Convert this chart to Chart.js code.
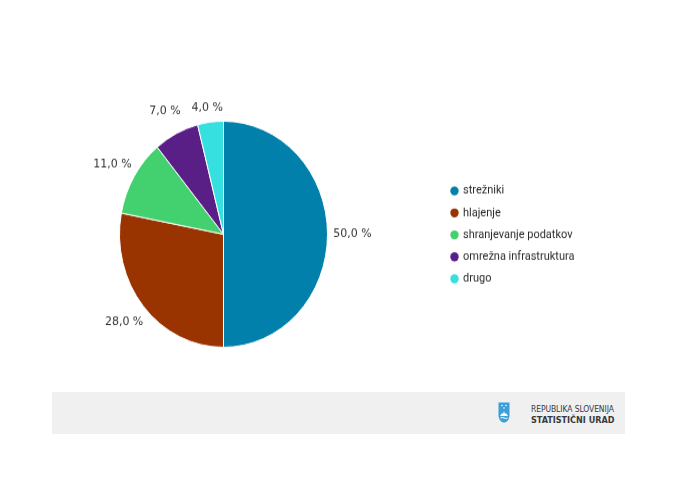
<!DOCTYPE html>
<html>
<head>
<meta charset="utf-8">
<script src="https://cdn.jsdelivr.net/npm/chart.js@4.4.1/dist/chart.umd.min.js"></script>
<style>
  html, body { margin: 0; padding: 0; background: #fff; }
  body { width: 677px; height: 486px; position: relative; overflow: hidden; }
  #wrap { position: absolute; left: 0; top: 0; width: 677px; height: 360px; transform: scaleY(1.087); transform-origin: 0 0; }
  #footer { position: absolute; left: 52px; top: 392px; width: 573px; height: 42px; background: #f0f0f0; }
  #logo { position: absolute; left: 446px; top: 10px; }
  .brand { position: absolute; left: 479px; color: #3a3a3a; font-family: "DejaVu Sans Condensed", "DejaVu Sans", sans-serif; white-space: nowrap; }
  .b1 { top: 12px; font-size: 8.5px; letter-spacing: -0.1px; }
  .b2 { top: 23px; font-size: 9px; font-weight: bold; }
</style>
</head>
<body>
<div id="wrap"><canvas id="chart" width="677" height="360"></canvas></div>
<div id="footer">
  <svg id="logo" width="12" height="21" viewBox="0 0 12 21">
    <path d="M0.5 0.5 H11.5 V13 C11.5 18 8.5 20.5 6 20.5 C3.5 20.5 0.5 18 0.5 13 Z" fill="#3d9fd9"/>
    <circle cx="4" cy="3.5" r="0.8" fill="#fff"/>
    <circle cx="8" cy="3.5" r="0.8" fill="#fff"/>
    <circle cx="6" cy="6" r="0.8" fill="#fff"/>
    <path d="M2 14 L4 11 L5 12 L6 9 L7 12 L8 11 L10 14 Z" fill="#fff"/>
    <path d="M2.5 16 Q4 15 6 16 Q8 17 9.5 16" stroke="#fff" stroke-width="1" fill="none"/>
  </svg>
  <div class="brand b1">REPUBLIKA SLOVENIJA</div>
  <div class="brand b2">STATISTIČNI URAD</div>
</div>
<script>
const categories = ['strežniki', 'hlajenje', 'shranjevanje podatkov', 'omrežna infrastruktura', 'drugo'];
const shares = [50.0, 28.0, 11.0, 7.0, 4.0];
const sliceColors = ['#0080aa', '#993300', '#43d06f', '#5a1f87', '#36dfe0'];

const fmt = (v) => v.toFixed(1).replace('.', ',') + ' %';

// labels outside the slices, centred on a point past the slice middle
const pieLabels = {
  id: 'pieLabels',
  afterDatasetsDraw(chart) {
    const ctx = chart.ctx;
    const meta = chart.getDatasetMeta(0);
    ctx.save();
    ctx.font = '11px "DejaVu Sans", Verdana, sans-serif';
    ctx.fillStyle = '#333333';
    ctx.textBaseline = 'middle';
    ctx.textAlign = 'center';
    meta.data.forEach((arc, i) => {
      const p = arc.getProps(['x', 'y', 'startAngle', 'endAngle', 'outerRadius'], true);
      const mid = (p.startAngle + p.endAngle) / 2;
      const lx = p.x + Math.cos(mid) * (p.outerRadius + 25);
      let ly = p.y + Math.sin(mid) * (p.outerRadius + 23);
      ly = Math.max(ly, chart.chartArea.top - 12);
      ctx.fillText(fmt(shares[i]), lx, ly);
    });
    ctx.restore();
  }
};

const sideLegend = {
  id: 'sideLegend',
  afterDraw(chart) {
    const ctx = chart.ctx;
    const ds = chart.data.datasets[0];
    ctx.save();
    ctx.font = '11px Roboto, sans-serif';
    ctx.textBaseline = 'middle';
    ctx.textAlign = 'left';
    chart.data.labels.forEach((lab, i) => {
      const y = 175.6 + i * 20.24;
      ctx.fillStyle = ds.backgroundColor[i];
      ctx.beginPath();
      ctx.arc(454.5, y, 4.2, 0, Math.PI * 2);
      ctx.fill();
      ctx.fillStyle = '#2a2a2a';
      ctx.fillText(lab, 463, y);
    });
    ctx.restore();
  }
};

new Chart(document.getElementById('chart'), {
  type: 'pie',
  data: {
    labels: categories,
    datasets: [{
      data: shares,
      backgroundColor: sliceColors,
      borderColor: '#ffffff',
      borderWidth: 1
    }]
  },
  options: {
    responsive: false,
    animation: false,
    events: [],
    layout: {
      padding: { left: 119, top: 111, right: 349, bottom: 40 }
    },
    plugins: {
      legend: { display: false },
      tooltip: { enabled: false }
    }
  },
  plugins: [pieLabels, sideLegend]
});
</script>
</body>
</html>
